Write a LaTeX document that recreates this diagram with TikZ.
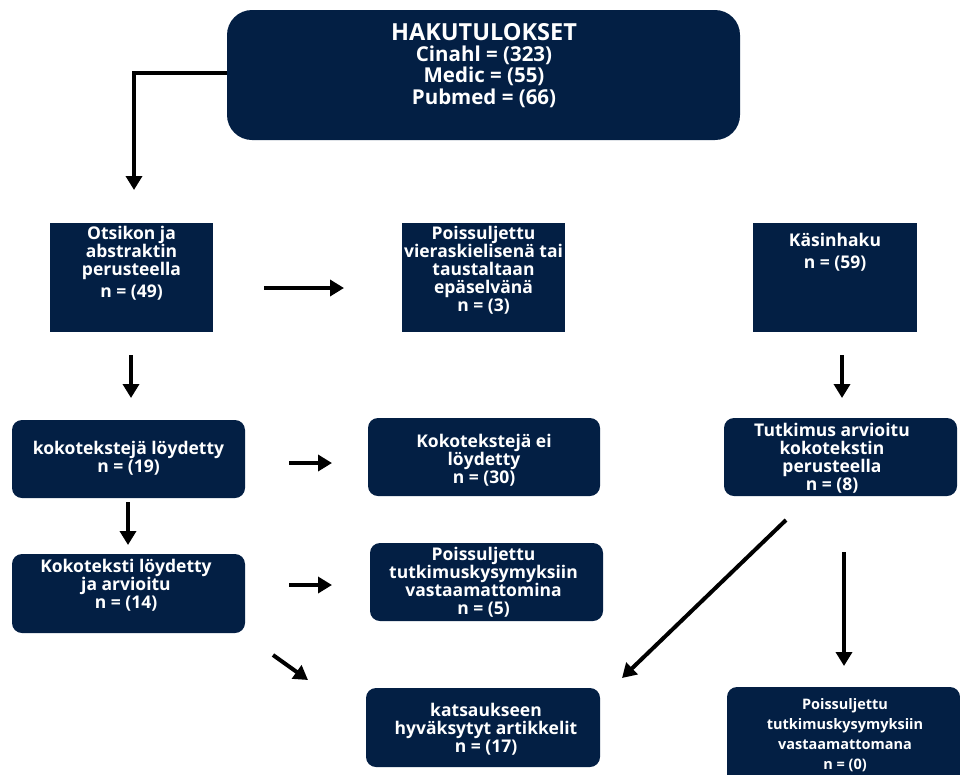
\documentclass[tikz,border=0pt]{standalone}
\usepackage{fontspec}
\setmainfont{Open Sans}
\usetikzlibrary{arrows.meta}
\definecolor{navy}{RGB}{3,31,68}
\begin{document}
\begin{tikzpicture}[x=1pt,y=-1pt,
  box/.style={fill=navy, draw=none, inner sep=0pt},
  rbox/.style={box, rounded corners=10pt},
  txt/.style={text=white, font=\bfseries\fontsize{17.5}{18}\selectfont, align=center, inner sep=0pt},
  arr/.style={line width=4pt, -{Triangle[length=14pt,width=16pt]}}
]
\useasboundingbox (0,0) rectangle (960,774);
\clip (0,0) rectangle (960,774);

% boxes
\node[box, rounded corners=25pt, minimum width=513pt, minimum height=130pt] (top) at (483.5,75) {};
\node[box, minimum width=163pt, minimum height=109pt] (ots) at (131.5,277.5) {};
\node[box, minimum width=163pt, minimum height=109pt] (pois3) at (483.5,277.5) {};
\node[box, minimum width=164pt, minimum height=109pt] (kasin) at (835,277.5) {};
\node[rbox, minimum width=233pt, minimum height=78pt] (koko19) at (128.5,459) {};
\node[rbox, minimum width=232pt, minimum height=78pt] (ei) at (484,457) {};
\node[rbox, minimum width=233pt, minimum height=78pt] (tutk) at (840.5,457) {};
\node[rbox, minimum width=233pt, minimum height=79pt] (koko14) at (128.5,593.5) {};
\node[rbox, minimum width=233pt, minimum height=78pt] (pois5) at (486.5,582) {};
\node[rbox, minimum width=234pt, minimum height=79pt] (kats) at (483,727.5) {};
\node[rbox, minimum width=233pt, minimum height=113pt] (pois0) at (843.5,743.5) {};

% texts
\node[txt, font=\bfseries\fontsize{23.5}{23.5}\selectfont, anchor=base] (toptitle) at (484,40) {HAKUTULOKSET};
\node[txt, font=\bfseries\fontsize{20.5}{21.5}\selectfont] (toptxt) at (484,76.5) {Cinahl = (323)\\Medic = (55)\\Pubmed = (66)};
\node[txt] (otstxt) at (131.5,263) {Otsikon ja\\abstraktin\\perusteella\\[4pt]n = (49)};
\node[txt] (pois3txt) at (483.5,270) {Poissuljettu\\vieraskielisenä tai\\taustaltaan\\epäselvänä\\n = (3)};
\node[txt] (kasintxt) at (835,252) {Käsinhaku\\[4pt]n = (59)};
\node[txt] (koko19txt) at (128.5,458) {kokotekstejä löydetty\\n = (19)};
\node[txt] (eitxt) at (484,460) {Kokotekstejä ei\\löydetty\\n = (30)};
\node[txt] (tutktxt) at (832,458) {Tutkimus arvioitu\\kokotekstin\\perusteella\\n = (8)};
\node[txt] (koko14txt) at (126,585.5) {Kokoteksti löydetty\\ja arvioitu\\n = (14)};
\node[txt] (pois5txt) at (483.5,582) {Poissuljettu\\tutkimuskysymyksiin\\vastaamattomina\\n = (5)};
\node[txt] (katstxt) at (486,729.5) {katsaukseen\\hyväksytyt artikkelit\\n = (17)};
\node[txt, font=\bfseries\fontsize{14.5}{20}\selectfont] (pois0txt) at (845,735) {Poissuljettu\\tutkimuskysymyksiin\\vastaamattomana\\n = (0)};

% arrow ends
\coordinate (a1e) at (134,190);
\coordinate (h1s) at (264,288); \coordinate (h1e) at (344,288);
\coordinate (v1s) at (131,355); \coordinate (v1e) at (131,398);
\coordinate (v2s) at (842,355); \coordinate (v2e) at (842,398);
\coordinate (h2s) at (289,463); \coordinate (h2e) at (332,463);
\coordinate (v3s) at (128,502); \coordinate (v3e) at (128,545);
\coordinate (h3s) at (289,585); \coordinate (h3e) at (332,585);
\coordinate (d1s) at (786,520); \coordinate (d1e) at (622,678);
\coordinate (v4s) at (844,552); \coordinate (v4e) at (844,666);
\coordinate (d2s) at (273,655); \coordinate (d2e) at (308,680);

% arrows
\draw[arr] ([yshift=2.5pt]top.west) -| (a1e);
\draw[arr] (h1s) -- (h1e);
\draw[arr] (v1s) -- (v1e);
\draw[arr] (v2s) -- (v2e);
\draw[arr] (h2s) -- (h2e);
\draw[arr] (v3s) -- (v3e);
\draw[arr] (h3s) -- (h3e);
\draw[arr] (d1s) -- (d1e);
\draw[arr] (v4s) -- (v4e);
\draw[arr] (d2s) -- (d2e);
\end{tikzpicture}
\end{document}
